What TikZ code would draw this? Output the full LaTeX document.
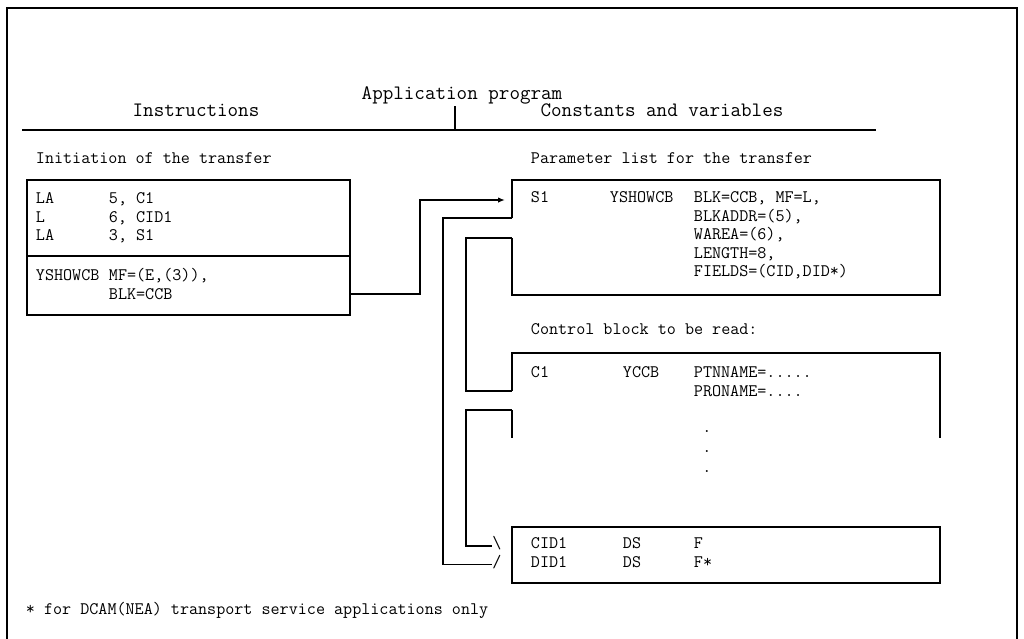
\documentclass[tikz,border=0pt]{standalone}
\usepackage{fontspec}
\usetikzlibrary{arrows.meta}
\newcommand{\bodyfont}{\ttfamily\fontsize{17.6}{19}\selectfont}
\newcommand{\headfont}{\ttfamily\fontsize{20.5}{22}\selectfont}
\begin{document}
\begin{tikzpicture}[x=1pt,y=-1pt,line width=1.9pt,
  txt/.style={anchor=west,inner sep=0pt,font=\bodyfont,text height=1.5ex,text depth=.3ex},
  hd/.style={inner sep=0pt,font=\headfont,text height=1.5ex,text depth=.3ex},
  conn/.style={line width=1.9pt},
  arr/.style={line width=1.9pt,-{Latex[length=7pt,width=5.5pt]}}]
\useasboundingbox (0,0) rectangle (1024,638);
% frame
\draw[line width=2.2pt] (7,642) -- (7,8) -- (1017,8) -- (1017,642);
% header
\node[hd] (app) at (462,97) {Application program};
\node[hd] (ins) at (196,114) {Instructions};
\node[hd] (cav) at (662,114) {Constants and variables};
\coordinate (vtop) at (455,106);
\coordinate (vbot) at (455,130);
\draw[line width=1.3pt] (vtop) -- (vbot);
\coordinate (rl) at (22,130);
\coordinate (rr) at (876,130);
\draw[line width=2.2pt] (rl) -- (rr);
% left box
\node[txt] (init) at (35,161) {Initiation of the transfer};
\coordinate (lb1) at (27,180);
\coordinate (lb2) at (350,315);
\draw (lb1) rectangle (lb2);
\coordinate (dl) at (27,256);
\coordinate (dr) at (350,256);
\draw (dl) -- (dr);
\node[txt] (l1a) at (35,201) {LA};
\node[txt] (l1b) at (108,201) {5, C1};
\node[txt] (l2a) at (35,219.5) {L};
\node[txt] (l2b) at (108,219.5) {6, CID1};
\node[txt] (l3a) at (35,238) {LA};
\node[txt] (l3b) at (108,238) {3, S1};
\node[txt] (l4a) at (35,278) {YSHOWCB};
\node[txt] (l4b) at (108,278) {MF=(E,(3)),};
\node[txt] (l5b) at (108,296.5) {BLK=CCB};
% parameter list box
\node[txt] (ptitle) at (530,161) {Parameter list for the transfer};
\coordinate (pa) at (512,218);
\coordinate (pb) at (512,238);
\draw (pa) -- (512,180) -- (940,180) -- (940,295) -- (512,295) -- (pb);
\node[txt] (s1) at (530,200) {S1};
\node[txt] (s2) at (609,200) {YSHOWCB};
\node[txt] (s3) at (693,200) {BLK=CCB, MF=L,};
\node[txt] (s4) at (693,218.5) {BLKADDR=(5),};
\node[txt] (s5) at (693,237) {WAREA=(6),};
\node[txt] (s6) at (693,255.5) {LENGTH=8,};
\node[txt] (s7) at (693,274) {FIELDS=(CID,DID*)};
% connector left box -> S1
\coordinate (cstart) at (350,294);
\coordinate (cend) at (505,200);
\draw[arr] (cstart) -- (420,294) -- (420,200) -- (cend);
% control block
\node[txt] (ctitle) at (530,332) {Control block to be read:};
\coordinate (ca) at (512,391);
\coordinate (cb) at (512,410);
\draw (ca) -- (512,353) -- (940,353) -- (940,438);
\draw (cb) -- (512,438);
\node[txt] (c1) at (530,375) {C1};
\node[txt] (c2) at (622,375) {YCCB};
\node[txt] (c3) at (693,375) {PTNNAME=.....};
\node[txt] (c4) at (693,393.5) {PRONAME=....};
\node[txt,anchor=center] (d1) at (707,430) {.};
\node[txt,anchor=center] (d2) at (707,450) {.};
\node[txt,anchor=center] (d3) at (707,470) {.};
% CID box
\node[draw,minimum width=428pt,minimum height=56pt,inner sep=0pt] (cidbox) at (726,555) {};
\node[txt] (e1) at (530,546) {CID1};
\node[txt] (e2) at (622,546) {DS};
\node[txt] (e3) at (693,546) {F};
\node[txt] (f1) at (530,564.5) {DID1};
\node[txt] (f2) at (622,564.5) {DS};
\node[txt] (f3) at (693,564.5) {F*};
\node[txt,anchor=center] (bs) at (497,546) {\textbackslash};
\node[txt,anchor=center] (sl) at (497,564.5) {/};
% stylised reference lines
\draw[conn] (pa) -- (443,218) -- (443,564.5) -- (sl.west);
\draw[conn] (pb) -- (466,238) -- (466,391) -- (ca);
\draw[conn] (cb) -- (466,410) -- (466,546) -- (bs.west);
% footnote
\node[txt] (fn) at (25,612) {* for DCAM(NEA) transport service applications only};
\end{tikzpicture}
\end{document}
